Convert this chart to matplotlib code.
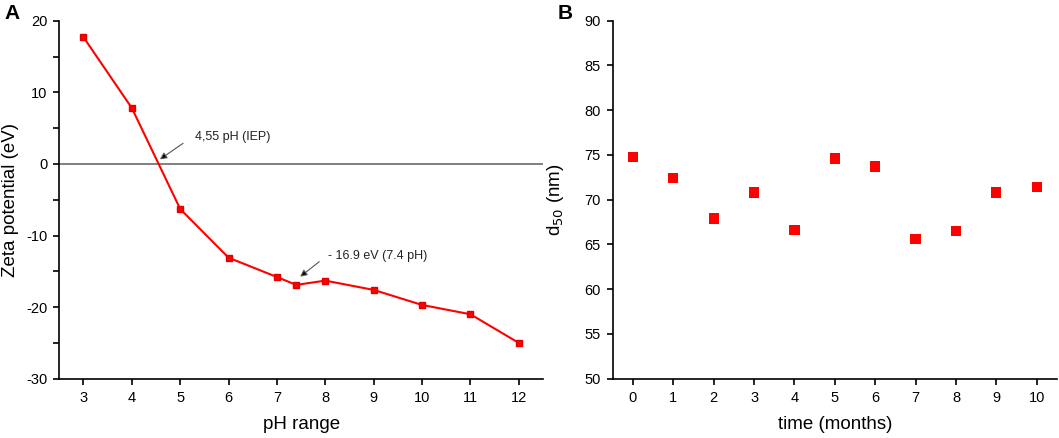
import numpy as np
import matplotlib
matplotlib.use("Agg")
import matplotlib.pyplot as plt

plt.rcParams['font.family'] = ['Liberation Sans', 'DejaVu Sans']
plt.rcParams['axes.unicode_minus'] = False

# panel A: zeta potential vs pH
ph = [3, 4, 5, 6, 7, 7.4, 8, 9, 10, 11, 12]
zeta = [17.7, 7.8, -6.3, -13.1, -15.8, -16.9, -16.3, -17.6, -19.7, -21.0, -25.0]

# panel B: d50 over time
months = [0, 1, 2, 3, 4, 5, 6, 7, 8, 9, 10]
d50 = [74.8, 72.4, 67.9, 70.8, 66.6, 74.6, 73.7, 65.6, 66.5, 70.8, 71.4]

fig = plt.figure(figsize=(10.59, 4.38), dpi=100)
axA = fig.add_axes([0.056, 0.1354, 0.4567, 0.8173])
axB = fig.add_axes([0.5786, 0.1354, 0.4194, 0.8173])

red = '#ff0000'
arrow = dict(arrowstyle='-|>', color='#555555', lw=0.8, mutation_scale=10,
             shrinkA=0, shrinkB=0, fc='black')

# --- A ---
axA.axhline(0, color='#808080', lw=1.4, zorder=1)
axA.plot(ph, zeta, color=red, lw=1.5, marker='s', ms=5, mec='#e00000', zorder=3)
axA.set_xlim(2.5, 12.5)
axA.set_ylim(-30, 20)
axA.set_xticks(range(3, 13))
axA.set_yticks(range(-30, 21, 10))
axA.set_yticks(range(-25, 20, 10), minor=True)
axA.set_xlabel('pH range', fontsize=13.5)
axA.set_ylabel('Zeta potential (eV)', fontsize=13.5)
axA.yaxis.set_label_coords(-0.083, 0.5)
axA.xaxis.set_label_coords(0.5, -0.105)

axA.annotate('', xy=(4.58, 0.64), xytext=(5.06, 2.88), arrowprops=arrow)
axA.text(5.30, 3.8, '4,55 pH (IEP)', fontsize=9, color='#222222', va='center')
axA.annotate('', xy=(7.48, -15.75), xytext=(7.875, -13.66), arrowprops=arrow)
axA.text(8.06, -12.87, '- 16.9 eV (7.4 pH)', fontsize=9, color='#222222', va='center')

# --- B ---
axB.scatter(months, d50, marker='s', s=55, color=red, edgecolors='none', zorder=3)
axB.set_xlim(-0.5, 10.5)
axB.set_ylim(50, 90)
axB.set_xticks(months)
axB.set_yticks(range(50, 91, 5))
axB.set_xlabel('time (months)', fontsize=13.5)
axB.set_ylabel('d$_{50}$ (nm)', fontsize=13.5)
axB.yaxis.set_label_coords(-0.105, 0.5)
axB.xaxis.set_label_coords(0.5, -0.105)

for ax in (axA, axB):
    ax.spines['top'].set_visible(False)
    ax.spines['right'].set_visible(False)
    ax.spines['left'].set_linewidth(1.2)
    ax.spines['bottom'].set_linewidth(1.2)
    ax.tick_params(which='major', direction='out', length=4, width=1.2,
                   labelsize=10.5, pad=4.5)
    ax.tick_params(which='minor', direction='out', length=4, width=1.2)

fig.text(0.004, 0.99, 'A', fontsize=15, fontweight='bold', va='top')
fig.text(0.527, 0.99, 'B', fontsize=15, fontweight='bold', va='top')

fig.savefig('out.png', dpi=100)
